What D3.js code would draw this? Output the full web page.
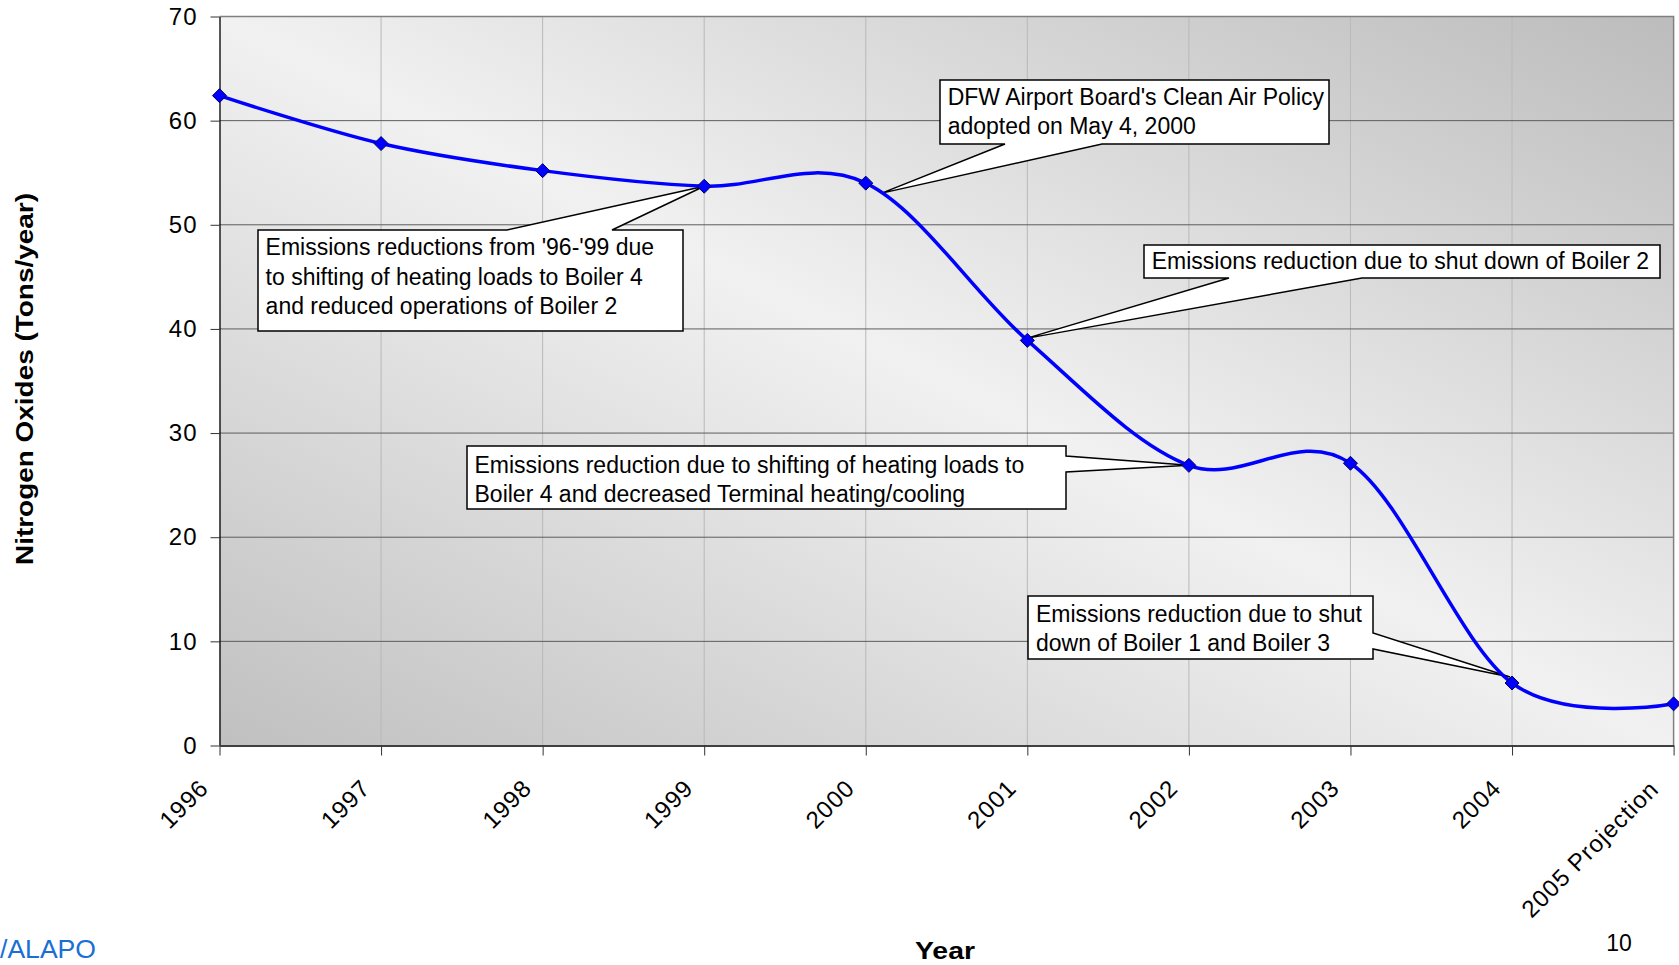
<!DOCTYPE html>
<html>
<head>
<meta charset="utf-8">
<script src="https://cdn.jsdelivr.net/npm/d3@7"></script>
<style>
  html, body { margin: 0; padding: 0; background: #ffffff; }
  svg { display: block; font-family: "Liberation Sans", Arial, sans-serif; }
</style>
</head>
<body>
<svg id="chart" width="1679" height="965"></svg>
<script>
// ---------- data ----------
const categories = ["1996", "1997", "1998", "1999", "2000", "2001", "2002", "2003", "2004", "2005 Projection"];
const noxValues  = [62.4, 57.8, 55.2, 53.7, 54.0, 38.9, 26.9, 27.1, 6.0, 4.0];
const yTicks     = [0, 10, 20, 30, 40, 50, 60, 70];
const yTitle = "Nitrogen Oxides (Tons/year)";
const xTitle = "Year";

// annotations: text lines and the category they point to
const noteLines = [
  ["Emissions reductions from '96-'99 due", "to shifting of heating loads to Boiler 4", "and reduced operations of Boiler 2"],
  ["DFW Airport Board's Clean Air Policy", "adopted on May 4, 2000"],
  ["Emissions reduction due to shut down of Boiler 2"],
  ["Emissions reduction due to shifting of heating loads to", "Boiler 4 and decreased Terminal heating/cooling"],
  ["Emissions reduction due to shut", "down of Boiler 1 and Boiler 3"]
];
const noteTargets = ["1999", "2000", "2001", "2002", "2004"];

// ---------- layout ----------
const W = 1679, H = 965;
const plot = { left: 219.5, right: 1673.6, top: 16.5, bottom: 745.5 };

// callout boxes (layout only): rect, pointer edge, pointer base, tip offset from the data point
const noteLayout = [
  { x0: 258, y0: 230, x1: 683, y1: 331, edge: "top",    a: 507,  b: 612,  dx: 0,  dy: 0,  tx: 265.6, base: [254.5, 284.5, 314.3] },
  { x0: 940, y0: 80,  x1: 1329, y1: 144, edge: "bottom", a: 1005, b: 1102, dx: 16, dy: 10, tx: 947.7, base: [104.8, 133.8] },
  { x0: 1144, y0: 245, x1: 1660, y1: 278, edge: "bottom", a: 1229, b: 1362, dx: -1, dy: -2, tx: 1151.7, base: [268.5] },
  { x0: 467, y0: 446, x1: 1066, y1: 509, edge: "right",  a: 456,  b: 472,  dx: 0,  dy: 0,  tx: 474.5, base: [472.5, 501.5] },
  { x0: 1028, y0: 596, x1: 1373, y1: 659, edge: "right",  a: 633,  b: 649,  dx: -2, dy: -6, tx: 1036, base: [621.8, 651.2] }
];

const svg = d3.select("#chart");

const x = d3.scalePoint().domain(categories).range([plot.left, plot.right]);
const y = d3.scaleLinear().domain([0, 70]).range([plot.bottom, plot.top]);

// ---------- background gradient ----------
const defs = svg.append("defs");
const grad = defs.append("linearGradient")
  .attr("id", "bg").attr("x1", 0).attr("y1", 1).attr("x2", 1).attr("y2", 0);
grad.append("stop").attr("offset", "0%").attr("stop-color", "#c0c0c0");
grad.append("stop").attr("offset", "50%").attr("stop-color", "#f1f1f1");
grad.append("stop").attr("offset", "100%").attr("stop-color", "#bcbcbc");

svg.append("rect")
  .attr("x", plot.left).attr("y", plot.top)
  .attr("width", plot.right - plot.left).attr("height", plot.bottom - plot.top)
  .attr("fill", "url(#bg)");

// vertical gridlines
svg.append("g").selectAll("line")
  .data(categories.slice(1, -1))
  .join("line")
  .attr("x1", d => x(d)).attr("x2", d => x(d))
  .attr("y1", plot.top).attr("y2", plot.bottom)
  .attr("stroke", "#b9b9b9").attr("stroke-width", 1);

// horizontal gridlines
svg.append("g").selectAll("line")
  .data(yTicks.filter(v => v > 0 && v < 70))
  .join("line")
  .attr("x1", plot.left).attr("x2", plot.right)
  .attr("y1", d => y(d)).attr("y2", d => y(d))
  .attr("stroke", "#5c5c5c").attr("stroke-width", 1);

// top & right border
svg.append("path")
  .attr("d", `M${plot.left},${y(70)}H${plot.right}V${plot.bottom}`)
  .attr("fill", "none").attr("stroke", "#808080").attr("stroke-width", 1.5);

// ---------- axes ----------
const yAxis = svg.append("g")
  .attr("transform", `translate(${plot.left},0)`)
  .call(d3.axisLeft(y).tickValues(yTicks).tickSize(9).tickPadding(13).tickSizeOuter(0));
yAxis.select(".domain").attr("stroke", "#000").attr("stroke-width", 1.3);
yAxis.selectAll(".tick line").attr("stroke", "#333");
yAxis.selectAll(".tick text")
  .attr("font-size", 24).attr("fill", "#000")
  .attr("font-family", "Liberation Sans, Arial, sans-serif")
  .attr("letter-spacing", 1);

const xAxis = svg.append("g")
  .attr("transform", `translate(0,${plot.bottom})`)
  .call(d3.axisBottom(x).tickSize(10).tickSizeOuter(0));
xAxis.select(".domain").attr("stroke", "#404040").attr("stroke-width", 2);
xAxis.selectAll(".tick line").attr("stroke", "#333");
xAxis.selectAll(".tick text")
  .attr("font-size", 24).attr("fill", "#000")
  .attr("font-family", "Liberation Sans, Arial, sans-serif")
  .attr("letter-spacing", 1)
  .attr("text-anchor", "end")
  .attr("y", 0).attr("dy", 0)
  .attr("transform", (d, i) => i === categories.length - 1 ? "translate(-14,45) rotate(-45)" : "translate(-10,44) rotate(-45)");

// axis titles
svg.append("text")
  .attr("transform", "translate(33,379) rotate(-90)")
  .attr("text-anchor", "middle")
  .attr("font-size", 24).attr("font-weight", "bold")
  .attr("textLength", 372).attr("lengthAdjust", "spacingAndGlyphs")
  .text(yTitle);

svg.append("text")
  .attr("x", 945).attr("y", 959)
  .attr("text-anchor", "middle")
  .attr("font-size", 23).attr("font-weight", "bold")
  .attr("textLength", 60).attr("lengthAdjust", "spacingAndGlyphs")
  .text(xTitle);

// ---------- callouts ----------
function calloutPath(L, tx, ty) {
  const { x0, y0, x1, y1, edge, a, b } = L;
  if (edge === "top")
    return `M${x0},${y0}L${a},${y0}L${tx},${ty}L${b},${y0}L${x1},${y0}L${x1},${y1}L${x0},${y1}Z`;
  if (edge === "bottom")
    return `M${x0},${y0}L${x1},${y0}L${x1},${y1}L${b},${y1}L${tx},${ty}L${a},${y1}L${x0},${y1}Z`;
  return `M${x0},${y0}L${x1},${y0}L${x1},${a}L${tx},${ty}L${x1},${b}L${x1},${y1}L${x0},${y1}Z`;
}

const notes = svg.append("g");
noteLines.forEach((lines, i) => {
  const L = noteLayout[i];
  const idx = categories.indexOf(noteTargets[i]);
  const tx = x(noteTargets[i]) + L.dx;
  const ty = y(noxValues[idx]) + L.dy;
  notes.append("path")
    .attr("d", calloutPath(L, tx, ty))
    .attr("fill", "#ffffff").attr("stroke", "#000").attr("stroke-width", 1.5)
    .attr("stroke-linejoin", "miter");
  lines.forEach((t, j) => {
    notes.append("text")
      .attr("x", L.tx).attr("y", L.base[j])
      .attr("font-size", 23).attr("fill", "#000")
      .text(t);
  });
});

// ---------- series ----------
const pts = categories.map((c, i) => [x(c), y(noxValues[i])]);
svg.append("path")
  .attr("d", d3.line().curve(d3.curveCardinal.tension(0))(pts))
  .attr("fill", "none").attr("stroke", "#0000ff").attr("stroke-width", 3.5)
  .attr("stroke-linejoin", "round");

svg.append("g").selectAll("path")
  .data(categories)
  .join("path")
  .attr("transform", (d, i) => `translate(${x(d)},${y(noxValues[i])})`)
  .attr("d", "M0,-7L7,0L0,7L-7,0Z")
  .attr("fill", "#0000ff").attr("stroke", "#000060").attr("stroke-width", 1);

// ---------- page footer texts ----------
svg.append("text")
  .attr("x", 0).attr("y", 958)
  .attr("font-size", 25).attr("fill", "#1a6fd3")
  .attr("textLength", 96).attr("lengthAdjust", "spacingAndGlyphs")
  .text("/ALAPO");

svg.append("text")
  .attr("x", 1619).attr("y", 951)
  .attr("text-anchor", "middle")
  .attr("font-size", 23).attr("fill", "#000")
  .text("10");
</script>
</body>
</html>
